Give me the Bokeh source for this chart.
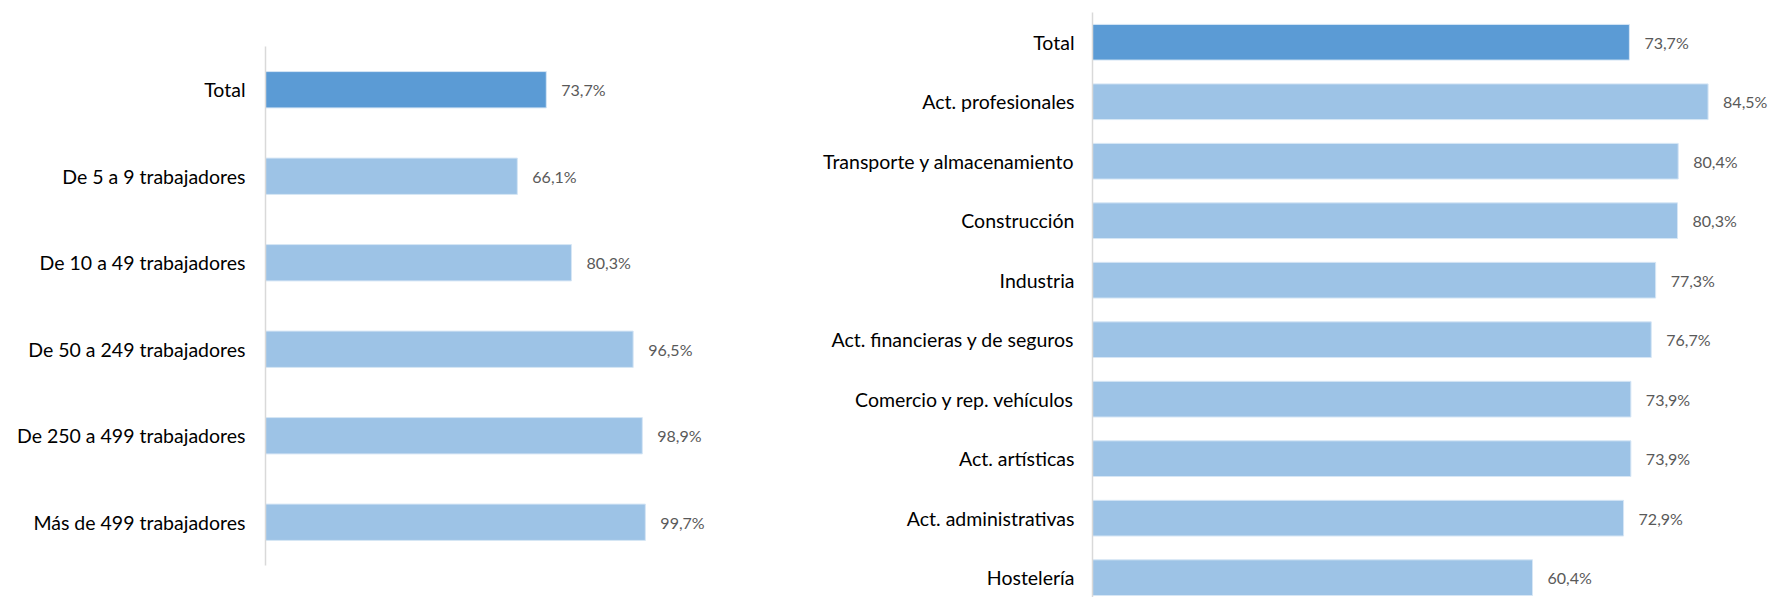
from bokeh.plotting import figure
from bokeh.layouts import row
from bokeh.models import Range1d, FixedTicker, ColumnDataSource
from bokeh.core.properties import value
from bokeh.embed import file_html
from bokeh.resources import INLINE

size_categories = ["Total", "De 5 a 9 trabajadores", "De 10 a 49 trabajadores",
                   "De 50 a 249 trabajadores", "De 250 a 499 trabajadores",
                   "Más de 499 trabajadores"]
size_values = [73.7, 66.1, 80.3, 96.5, 98.9, 99.7]

sector_categories = ["Total", "Act. profesionales", "Transporte y almacenamiento",
                     "Construcción", "Industria", "Act. financieras y de seguros",
                     "Comercio y rep. vehículos", "Act. artísticas",
                     "Act. administrativas", "Hostelería"]
sector_values = [73.7, 84.5, 80.4, 80.3, 77.3, 76.7, 73.9, 73.9, 72.9, 60.4]

TOTAL_COLOR = "#5B9BD5"
BAR_COLOR = "#9DC3E6"
FONT = "Lato"

FRAME_TOP = 12
FRAME_H = 585


def make_chart(cats, vals, x_end, y_top, y_bottom, bounds, frame_w, b_left,
               bar_h, standoff):
    pos = list(range(len(cats)))
    colors = [TOTAL_COLOR] + [BAR_COLOR] * (len(cats) - 1)
    labels = [f"{v:.1f}".replace(".", ",") + "%" for v in vals]
    src = ColumnDataSource(dict(y=pos, v=vals, c=colors, lab=labels))
    p = figure(frame_width=frame_w, frame_height=FRAME_H, title=None,
               x_range=Range1d(0, x_end), y_range=Range1d(y_bottom, y_top),
               output_backend="svg", toolbar_location=None,
               min_border_left=b_left, min_border_right=0,
               min_border_top=FRAME_TOP, min_border_bottom=0)
    p.hbar(y="y", left=0, right="v", height=bar_h, fill_color="c",
           line_color="#D6E6F5", line_width=1, source=src)
    p.text(x="v", y="y", text="lab", x_offset=15, text_align="left",
           text_baseline="middle", text_font=value(FONT),
           text_font_size="16px", text_color="#595959", source=src)
    p.xaxis.visible = False
    p.xgrid.visible = False
    p.ygrid.visible = False
    p.outline_line_color = None
    ax = p.yaxis[0]
    ax.ticker = FixedTicker(ticks=pos)
    ax.major_label_overrides = {i: c for i, c in enumerate(cats)}
    ax.bounds = bounds
    ax.major_tick_line_color = None
    ax.minor_tick_line_color = None
    ax.major_tick_out = 0
    ax.major_tick_in = 0
    ax.major_label_standoff = standoff
    ax.axis_line_color = "#D9D9D9"
    ax.axis_line_width = 1.5
    ax.major_label_text_font = FONT
    ax.major_label_text_font_size = "19.5px"
    ax.major_label_text_color = "#000000"
    return p


# left chart: category pitch 86.5px, axis line from y=46 to y=565
left_pitch = 86.5
left = make_chart(size_categories, size_values, x_end=452 / 3.81,
                  y_top=-0.5 - (46 - FRAME_TOP) / left_pitch,
                  y_bottom=5.5 + (FRAME_TOP + FRAME_H - 565) / left_pitch,
                  bounds=(-0.5, 5.5), frame_w=452, b_left=265,
                  bar_h=0.42, standoff=20)

# right chart: category pitch 59.49px, extends past the bottom edge
right_pitch = 59.49
right = make_chart(sector_categories, sector_values, x_end=684 / 7.285,
                   y_top=-0.5, y_bottom=-0.5 + FRAME_H / right_pitch,
                   bounds="auto", frame_w=684, b_left=375,
                   bar_h=0.6, standoff=18)

layout = row(left, right)
open("out.html", "w").write(file_html(layout, INLINE))
